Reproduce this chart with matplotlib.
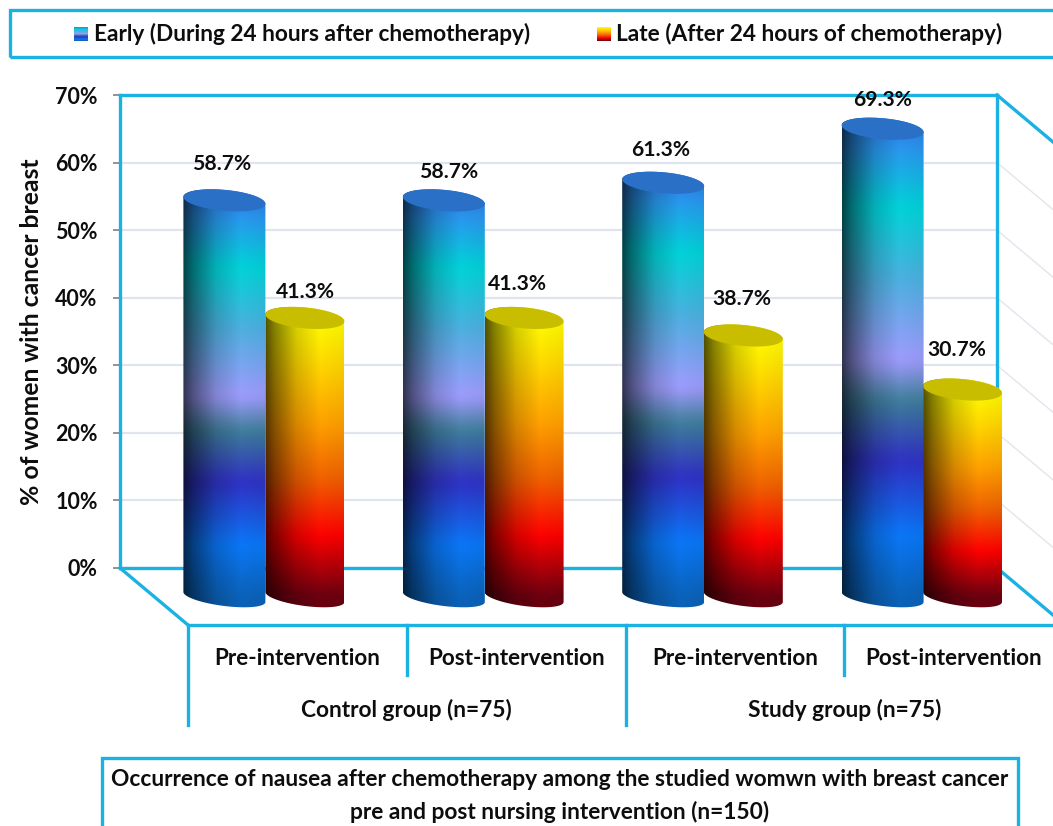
import numpy as np
import matplotlib
matplotlib.use("Agg")
import matplotlib.pyplot as plt
from matplotlib.patches import Polygon, Rectangle
from matplotlib.ticker import PercentFormatter

plt.rcParams["font.family"] = ["Lato", "DejaVu Sans"]
plt.rcParams["font.weight"] = "bold"

# values in percent
phases = ["Pre-intervention", "Post-intervention", "Pre-intervention", "Post-intervention"]
groups = ["Control group (n=75)", "Study group (n=75)"]
early = [58.7, 58.7, 61.3, 69.3]
late = [41.3, 41.3, 38.7, 30.7]
early_name = "Early (During 24 hours after chemotherapy)"
late_name = "Late (After 24 hours of chemotherapy)"
title_lines = ["Occurrence of nausea after chemotherapy among the studied womwn with breast cancer",
               "pre and post nursing intervention (n=150)"]
ylabel = "% of women with cancer breast"

W, H = 1053, 826
BLUE = "#1bb1e3"
SLOT = 218.8       # px per category
PCT = 473 / 70     # px per percent
FRAME_LW = 2.4
TEXT = "#0d0d0d"

early_stops = [(0.0, "#0b62b8"), (0.13, "#0a78f8"), (0.29, "#3030c4"), (0.42, "#3e7f9a"),
               (0.505, "#a09cff"), (0.68, "#4cb0e0"), (0.83, "#00d4d8"), (0.96, "#2b95f0"), (1.0, "#2a80e0")]
late_stops = [(0.0, "#6a0010"), (0.22, "#ff0000"), (0.42, "#f06000"), (0.62, "#ffa000"),
              (0.85, "#ffdc00"), (1.0, "#ffff00")]

# horizontal shading across the round side of a cylinder
shade_u = [0.0, 0.12, 0.4, 0.7, 1.0]
shade_v = [0.32, 0.52, 0.84, 1.0, 0.96]


def gradient(stops, frac, soften=0):
    pos = [s[0] for s in stops]
    cols = np.array([matplotlib.colors.to_rgb(s[1]) for s in stops])
    out = np.stack([np.interp(frac, pos, cols[:, i]) for i in range(3)], axis=-1)
    if soften:
        # moving average takes the hard corners off the colour ramp
        kernel = np.hanning(soften)
        kernel /= kernel.sum()
        pad = soften // 2
        padded = np.pad(out, ((pad, pad), (0, 0)), mode="edge")
        out = np.stack([np.convolve(padded[:, i], kernel, mode="same")[pad:-pad] for i in range(3)], axis=-1)
    return out


def ellipse_pts(cx, cy, a, b, t, tilt):
    return np.column_stack([cx + a * np.cos(t), cy + b / PCT * np.sin(t) - tilt / PCT * np.cos(t)])


def cylinder(ax, cx, half, value, stops, cap, base, z):
    top = base + value
    t_low = np.linspace(np.pi, 2 * np.pi, 60)
    t_up = np.linspace(0, np.pi, 60)
    verts = np.vstack([ellipse_pts(cx, base, half, 9, t_low, 5), ellipse_pts(cx, top, half, 10.5, t_up, 3.5)])
    y0, y1 = base - 12 / PCT, top + 12 / PCT

    frac = np.clip((np.linspace(y0, y1, 400) - base) / value, 0, 1)
    col = gradient(stops, frac, soften=25)
    u = np.linspace(0, 1, 200)
    shade = np.interp(u, shade_u, shade_v)
    img = col[:, None, :] * shade[None, :, None]

    im = ax.imshow(img, origin="lower", aspect="auto", interpolation="bilinear",
                   extent=(cx - half, cx + half, y0, y1), zorder=z)
    outline = Polygon(verts, closed=True, transform=ax.transData)
    im.set_clip_box(ax.figure.bbox)
    im.set_clip_path(outline)

    t = np.linspace(0, 2 * np.pi, 120)
    ax.add_patch(Polygon(ellipse_pts(cx, top, half, 10.5, t, 3.5), closed=True, facecolor=cap,
                         edgecolor="none", zorder=z + 0.1, clip_on=False))


fig = plt.figure(figsize=(W / 100, H / 100), dpi=100, facecolor="white")
ax = fig.add_axes([120 / W, 1 - 568 / H, 877 / W, 473 / H])

x_left = -0.5 - 68 / SLOT
ax.set_xlim(x_left, x_left + 877 / SLOT)
ax.set_ylim(0, 70)

# back wall
for s in ax.spines.values():
    s.set_color(BLUE)
    s.set_linewidth(FRAME_LW)
ax.set_axisbelow(True)
ax.yaxis.grid(True, color="#dfe4ee", lw=1.6)
ax.set_yticks(range(0, 71, 10))
ax.yaxis.set_major_formatter(PercentFormatter(decimals=0))
ax.tick_params(axis="y", length=5, width=1.2, color="#808080", pad=11, labelsize=15.5, labelcolor=TEXT)
ax.set_xticks(range(len(phases)), labels=phases)
ax.tick_params(axis="x", length=0, pad=57.5, labelsize=16.2, labelcolor=TEXT)
ax.set_ylabel(ylabel, fontsize=17.8, fontweight="bold", color=TEXT, labelpad=9)

# floor and side wall, drawn in the same data units
depth_x, depth_y = 68 / SLOT, 57 / PCT
x_right = ax.get_xlim()[1]
side_x = 56 / SLOT
side_y = 47 / PCT
ax.plot([x_left, x_left + depth_x], [0, -depth_y], color=BLUE, lw=FRAME_LW, clip_on=False)
ax.plot([x_left + depth_x, x_right + side_x], [-depth_y, -depth_y], color=BLUE, lw=FRAME_LW, clip_on=False)
for level in range(0, 71, 10):
    edge = level in (0, 70)
    ax.plot([x_right, x_right + side_x], [level, level - side_y], clip_on=False,
            color=BLUE if edge else "#e2e5ec", lw=FRAME_LW if edge else 1.0, zorder=2)

# category dividers under the floor
for k in range(4):
    drop = 157 if k % 2 == 0 else 107
    ax.plot([k - 0.5, k - 0.5], [-depth_y, -depth_y - (drop - 57) / PCT], color=BLUE,
            lw=FRAME_LW, clip_on=False)
for i, name in enumerate(groups):
    ax.text(2 * i + 0.5, -142 / PCT, name, ha="center", va="center", fontsize=16.4, color=TEXT)

# cylinders: late first so the early one sits in front where they touch
base = -29 / PCT
early_off = [(-3, 36), (5, 28), (-3, 33), (0, 29)]
late_off = [(1, 26), (-7, 34), (-1, 36), (-6, 40)]
for k in range(len(phases)):
    cyl_e = k - 73 / SLOT + k * 0.6 / SLOT
    cyl_l = k + 7.5 / SLOT + k * 0.4 / SLOT
    cylinder(ax, cyl_l, 39.5 / SLOT, late[k], late_stops, "#c9bd00", base, 4)
    cylinder(ax, cyl_e, 41 / SLOT, early[k], early_stops, "#2a70c6", base, 5)
    for cx, val, off in ((cyl_e, early[k], early_off[k]), (cyl_l, late[k], late_off[k])):
        ax.text(cx + off[0] / SLOT, base + val + off[1] / PCT, f"{val}%", ha="center", va="center",
                fontsize=15.2, color=TEXT, zorder=10)

ax.set_xlim(x_left, x_right)
ax.set_ylim(0, 70)

# legend strip and title box run off the page edge
fig.add_artist(Rectangle((10 / W, 1 - 57 / H), 1060 / W, 47 / H, transform=fig.transFigure,
                         facecolor="none", edgecolor=BLUE, lw=FRAME_LW))
fig.add_artist(Rectangle((102 / W, 1 - 840 / H), 916 / W, 82 / H, transform=fig.transFigure,
                         facecolor="none", edgecolor=BLUE, lw=FRAME_LW))

for px, stops, name, tx in ((74, early_stops, early_name, 94), (597, late_stops, late_name, 616)):
    sw = fig.add_axes([px / W, 1 - 41 / H, 14 / W, 14 / H])
    sw.imshow(gradient(stops, np.linspace(0, 1, 50))[:, None, :], origin="lower", aspect="auto")
    sw.axis("off")
    fig.text(tx / W, 1 - 34 / H, name, ha="left", va="center", fontsize=16.3, color=TEXT)

fig.text(560 / W, 1 - 779 / H, title_lines[0], ha="center", va="center", fontsize=16.4, color=TEXT)
fig.text(560 / W, 1 - 812 / H, title_lines[1], ha="center", va="center", fontsize=16.4, color=TEXT)

fig.savefig("out.png", dpi=100)
